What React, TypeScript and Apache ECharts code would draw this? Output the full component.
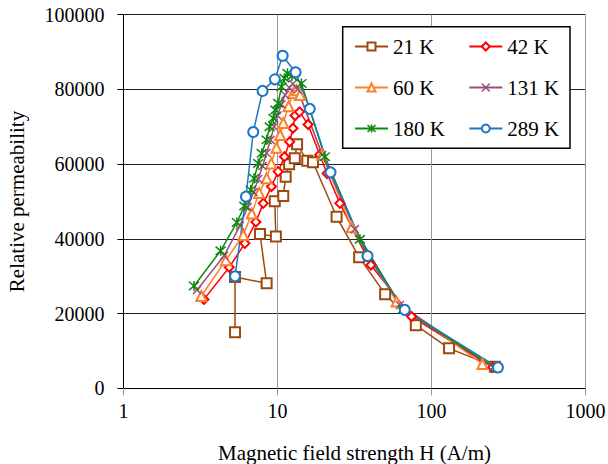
import { useEffect, useRef } from 'react';
import * as echarts from 'echarts';

const FONT = 'Liberation Serif';

const seriesNames = ['21 K', '42 K', '60 K', '131 K', '180 K', '289 K'];
const seriesColors = ['#9E480E', '#FF0000', '#FF7F27', '#9B4F7E', '#0A8A0A', '#1F77C4'];

const h21 = [5.3, 5.3, 8.5, 7.7, 9.76, 9.6, 10.9, 11.3, 11.9, 12.95, 13.4, 15.6, 17.0, 24.2, 33.9, 50.0, 79.1, 130, 258];
const mu21 = [15000, 29800, 28100, 41300, 40600, 50100, 51500, 56600, 60000, 61600, 65300, 60900, 60500, 45900, 35100, 25200, 16900, 10700, 5800];

const h42 = [3.33, 4.86, 6.14, 7.24, 8.08, 9.14, 10.1, 11.1, 12.0, 12.6, 13.0, 13.9, 15.8, 18.8, 21.0, 25.4, 40.4, 74.2, 250];
const mu42 = [23800, 32400, 38800, 44500, 49500, 54000, 58000, 62000, 66000, 69600, 73000, 74000, 70600, 62500, 57500, 49500, 33000, 19200, 5600];

const h60 = [3.2, 4.62, 6.0, 6.8, 7.6, 8.5, 9.1, 9.85, 10.4, 10.9, 11.8, 12.6, 13.3, 14.0, 19.5, 30.3, 59.3, 214];
const mu60 = [24700, 34300, 41000, 46800, 52300, 56200, 60200, 64400, 67800, 71000, 75500, 79000, 79800, 78500, 62500, 43100, 23200, 6500];

const h131 = [3.0, 4.5, 5.7, 6.4, 7.0, 7.5, 8.0, 8.5, 9.0, 9.5, 10.0, 10.6, 11.2, 11.9, 12.6, 13.5, 19.5, 31.8, 62.3, 251];
const mu131 = [26300, 35500, 43500, 48500, 52500, 56000, 59500, 63000, 66500, 70000, 73000, 76000, 78500, 80500, 81500, 80000, 62500, 42600, 22300, 5600];

const h180 = [2.87, 4.27, 5.45, 6.1, 6.7, 7.05, 7.5, 7.9, 8.5, 8.9, 9.4, 9.7, 10.1, 10.6, 11.1, 11.6, 12.4, 14.3, 20.3, 34.3, 65.4, 264];
const mu180 = [27400, 36800, 44400, 48800, 53100, 56200, 60200, 62900, 66500, 70000, 72300, 74500, 76300, 80700, 83000, 84300, 83600, 81600, 62000, 39900, 21150, 5350];

const h289 = [5.3, 6.24, 6.96, 8.0, 9.62, 10.8, 13.1, 16.2, 22.1, 38.4, 67, 270];
const mu289 = [30000, 51300, 68600, 79600, 82700, 89000, 84600, 74800, 57800, 35400, 21000, 5600];

const xTicks = [1, 10, 100, 1000];
const yMin = 0;
const yMax = 100000;
const yStep = 20000;

const allH = [h21, h42, h60, h131, h180, h289];
const allMu = [mu21, mu42, mu60, mu131, mu180, mu289];

const symbols = [
  'emptyRect',
  'emptyDiamond',
  'emptyTriangle',
  'path://M0,0 L10,10 M10,0 L0,10',
  'path://M0,0 L10,10 M10,0 L0,10 M5,-1 L5,11',
  'emptyCircle',
];
const symbolSizes = [10, 9, 10, 8, 10, 10];

export default function App() {
  const ref = useRef<HTMLDivElement>(null);
  useEffect(() => {
    const chart = echarts.init(ref.current!, null, { renderer: 'svg' });
    const txt = { fontSize: 20, fontFamily: FONT, color: '#000', fontWeight: 'normal' as const };
    const nameTxt = { ...txt, fontSize: 21 };
    const series = seriesNames.map((name, i) => ({
      name,
      type: 'line',
      data: allH[i].map((h, j) => [h, allMu[i][j]]),
      symbol: symbols[i],
      symbolSize: symbolSizes[i],
      showSymbol: true,
      lineStyle: { color: seriesColors[i], width: 1.5 },
      itemStyle: { color: seriesColors[i], borderColor: seriesColors[i], borderWidth: 1.5 },
      emphasis: { disabled: true },
    }));
    const legendCommon = {
      orient: 'vertical',
      itemWidth: 33,
      itemHeight: 10,
      itemGap: 20,
      padding: 0,
      selectedMode: false,
      textStyle: { fontSize: 21, fontFamily: FONT, color: '#000' },
      itemStyle: { borderWidth: 1.5 },
      z: 10,
    };
    chart.setOption({
      animation: false,
      backgroundColor: '#fff',
      textStyle: { fontFamily: FONT },
      grid: {
        left: 123.5,
        right: 22.5,
        top: 14.7,
        bottom: 75.7,
        containLabel: false,
        outerBoundsMode: 'none',
      },
      xAxis: {
        type: 'log',
        logBase: 10,
        min: xTicks[0],
        max: xTicks[xTicks.length - 1],
        axisLine: { show: true, lineStyle: { color: '#000', width: 1 } },
        axisTick: { show: true, length: 7, lineStyle: { color: '#999' } },
        splitLine: { show: true, lineStyle: { color: '#999', width: 1 } },
        minorTick: { show: false },
        axisLabel: {
          ...txt,
          margin: 13,
          formatter: (v: number) => String(Math.round(v)),
        },
        name: 'Magnetic field strength H (A/m)',
        nameLocation: 'middle',
        nameGap: 54,
        nameTextStyle: nameTxt,
      },
      yAxis: {
        type: 'value',
        min: yMin,
        max: yMax,
        interval: yStep,
        axisLine: { show: true, lineStyle: { color: '#000', width: 1 } },
        axisTick: { show: true, length: 6, lineStyle: { color: '#000' } },
        splitLine: { show: true, lineStyle: { color: '#222', width: 1 } },
        axisLabel: {
          ...txt,
          margin: 19,
          formatter: (v: number) => String(v),
        },
        name: 'Relative permeability',
        nameLocation: 'middle',
        nameGap: 96,
        nameTextStyle: nameTxt,
      },
      legend: [
        { ...legendCommon, left: 354, top: 36, data: [seriesNames[0], seriesNames[2], seriesNames[4]] },
        { ...legendCommon, left: 468.3, top: 36, data: [seriesNames[1], seriesNames[3], seriesNames[5]] },
      ],
      graphic: [
        {
          type: 'rect',
          z: 3,
          shape: { x: 342.7, y: 26.7, width: 227.3, height: 121.6 },
          style: { fill: '#fff', stroke: '#000', lineWidth: 1.5 },
        },
      ],
      series,
    });
    return () => chart.dispose();
  }, []);
  return <div ref={ref} style={{ position: 'fixed', left: 0, top: 0, width: 608, height: 464 }} />;
}
